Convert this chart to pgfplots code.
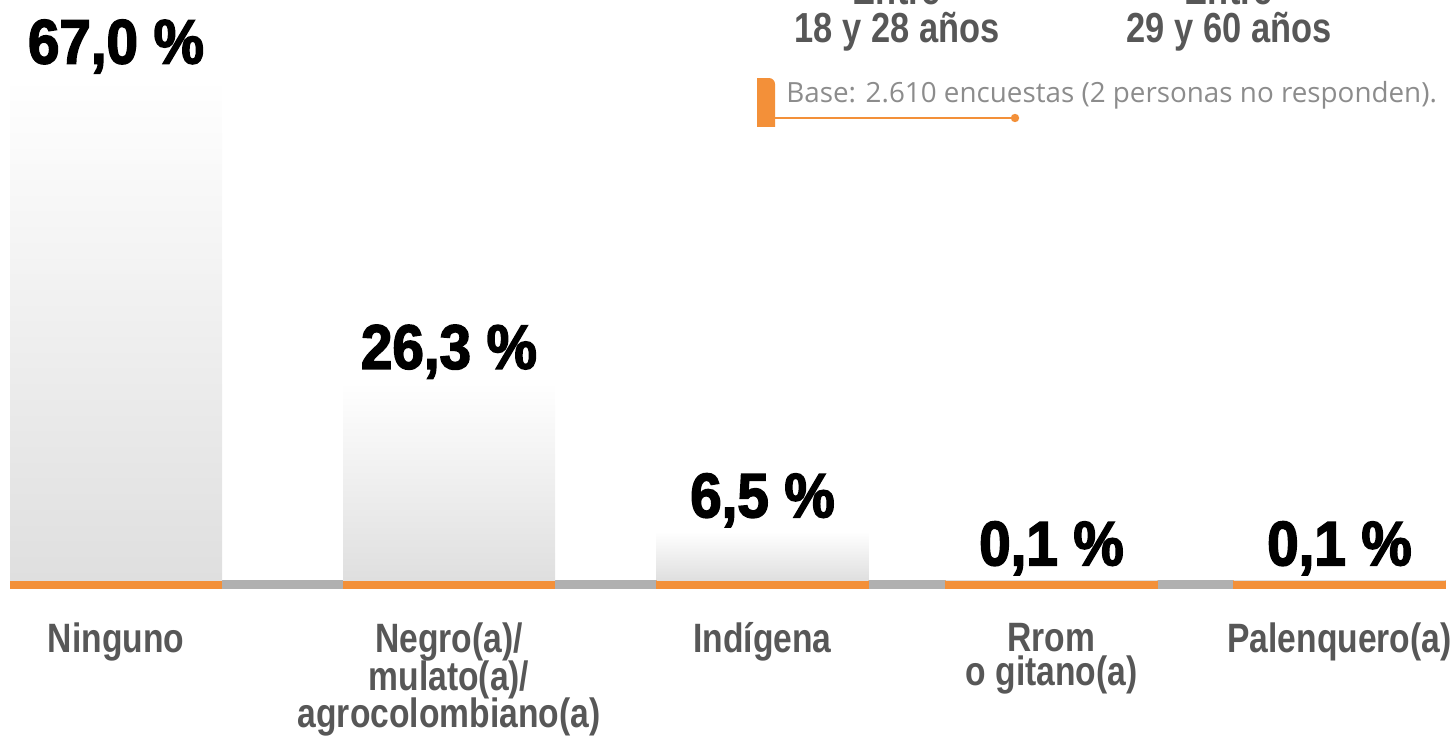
\documentclass[border=0pt]{standalone}
\usepackage{pgfplots}
\usepackage{pgfplotstable}
\pgfplotsset{compat=1.18}
\usepackage{fontspec}
\setmainfont{Liberation Sans}
\newfontfamily\catfont[FakeStretch=0.82]{Liberation Sans}
\newfontfamily\valfont[FakeStretch=0.9,FakeBold=2.5]{Liberation Sans}
\newfontfamily\notefont{Open Sans}
\definecolor{orangeC}{HTML}{F39039}
\definecolor{lineGray}{HTML}{B0B0B0}
\definecolor{barGray}{HTML}{DFDFDF}
\definecolor{txtGray}{HTML}{575757}
\definecolor{noteGray}{HTML}{8C8C8C}

\pgfplotstableread{
x y
116 67.0
449 26.3
762.5 6.5
1051.5 0.1
1339.5 0.1
}\data

\begin{document}
\begin{tikzpicture}
\begin{axis}[
  x=0.5pt, y=3.75pt,
  xmin=0, xmax=1452, ymin=-20.6667, ymax=77.3333,
  axis x line=middle, axis y line=none,
  axis line style={draw=none},
  clip=false,
  major tick length=0pt,
  tick style={draw=none},
  xtick={116,449,762.5,1051.5,1339.5},
  xticklabels={{Ninguno}, {Negro(a)/\\[-1.3pt]mulato(a)/\\[-1.3pt]agrocolombiano(a)}, {Indígena}, {Rrom\\[-1.3pt]o gitano(a)}, {Palenquero(a)}},
  xticklabel style={align=center, anchor=north, inner sep=0pt, yshift=-21.2pt,
    execute at begin node=\strut,
    font=\catfont\bfseries\fontsize{20.5}{18.4}\selectfont, text=txtGray},
  ytick=\empty,
  every node near coord/.append style={anchor=base, yshift=7pt, text=black,
    font=\valfont\bfseries\fontsize{31.4}{34}\selectfont},
  barstyle/.style={ybar, bar width=212, bar shift=0pt, draw=none,
    top color=white, bottom color=barGray},
]
\coordinate (bl) at (rel axis cs:0,0);
\coordinate (tr) at (rel axis cs:1,1);
% baseline
\fill[lineGray] (axis cs:10,-1.2) rectangle (axis cs:1446,0);
\fill[orangeC] (axis cs:10,-1.2) rectangle (axis cs:222,0);
\fill[orangeC] (axis cs:343,-1.2) rectangle (axis cs:555,0);
\fill[orangeC] (axis cs:656,-1.2) rectangle (axis cs:869,0);
\fill[orangeC] (axis cs:945,-1.2) rectangle (axis cs:1158,0);
\fill[orangeC] (axis cs:1233,-1.2) rectangle (axis cs:1446,0);
% bars (one plot each so that each bar has its own gradient)
\addplot[barstyle] table[x=x,y=y,skip coords between index={1}{5}] {\data};
\addplot[barstyle] table[x=x,y=y,skip coords between index={0}{1},skip coords between index={2}{5}] {\data};
\addplot[barstyle] table[x=x,y=y,skip coords between index={0}{2},skip coords between index={3}{5}] {\data};
\addplot[barstyle] table[x=x,y=y,skip coords between index={0}{3},skip coords between index={4}{5}] {\data};
\addplot[barstyle] table[x=x,y=y,skip coords between index={0}{4}] {\data};
% value labels
\addplot[draw=none, mark=none,
  nodes near coords={\pgfmathprintnumber[fixed,fixed zerofill,precision=1,use comma,assume math mode=true]{\pgfplotspointmeta}~\%},
  ] table[x=x,y=y] {\data};
% header texts (partly cut)
\node[anchor=base, text=txtGray, font=\catfont\bfseries\fontsize{21}{24}\selectfont] at (axis cs:897,76.67) {Entre};
\node[anchor=base, text=txtGray, font=\catfont\bfseries\fontsize{21}{24}\selectfont] at (axis cs:897,71.73) {18 y 28 años};
\node[anchor=base, text=txtGray, font=\catfont\bfseries\fontsize{21}{24}\selectfont] at (axis cs:1229,76.67) {Entre};
\node[anchor=base, text=txtGray, font=\catfont\bfseries\fontsize{21}{24}\selectfont] at (axis cs:1229,71.73) {29 y 60 años};
% note
\fill[orangeC] (axis cs:757,60.4) -- (axis cs:757,66.93) [rounded corners=3pt] -- (axis cs:775,66.93) [sharp corners] -- (axis cs:775,60.4) -- cycle;
\draw[orangeC, line width=1.4pt] (axis cs:775,61.6) -- (axis cs:1015,61.6);
\fill[orangeC] (axis cs:1015,61.6) circle[radius=2.1pt];
\node[anchor=base west, inner sep=0pt, text=noteGray, font=\notefont\fontsize{13.9}{16}\selectfont] at (axis cs:786,63.6) {Base: 2.610 encuestas (2 personas no responden).};
\end{axis}
\pgfresetboundingbox
\useasboundingbox (bl) rectangle (tr);
\end{tikzpicture}
\end{document}
